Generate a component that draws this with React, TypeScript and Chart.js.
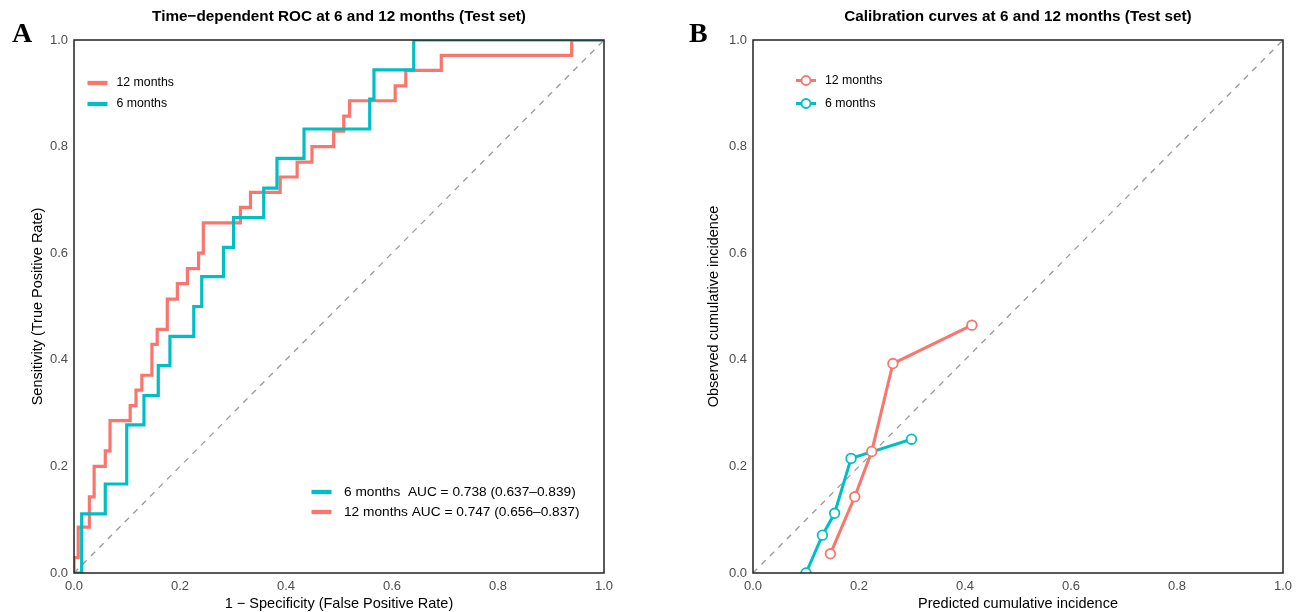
import { useEffect, useRef } from "react";
import { Chart, registerables } from "chart.js";

Chart.register(...registerables);

const FONT = "'Liberation Sans', Arial, Helvetica, sans-serif";
const SERIF = "'Liberation Serif', 'Times New Roman', serif";
const RED = "#F8766D";
const CYAN = "#00BFC4";
const TICK_COLOR = "#4d4d4d";

// Time-dependent ROC, 12 months: corner points (FPR, TPR) of the step curve
const roc12Fpr = [0, 0, 0.008, 0.029, 0.038, 0.059, 0.068, 0.106, 0.117, 0.128, 0.147, 0.157, 0.176, 0.195, 0.214, 0.235, 0.244, 0.314, 0.333, 0.389, 0.421, 0.449, 0.49, 0.509, 0.52, 0.606, 0.626, 0.693, 0.939, 1];
const roc12Tpr = [0, 0.029, 0.086, 0.143, 0.2, 0.229, 0.286, 0.314, 0.343, 0.371, 0.429, 0.457, 0.514, 0.543, 0.571, 0.6, 0.657, 0.686, 0.714, 0.743, 0.771, 0.8, 0.829, 0.857, 0.886, 0.914, 0.943, 0.971, 1, 1];

// Time-dependent ROC, 6 months
const roc6Fpr = [0, 0.0145, 0.059, 0.0995, 0.132, 0.159, 0.181, 0.226, 0.241, 0.282, 0.301, 0.358, 0.383, 0.434, 0.558, 0.566, 0.641, 1];
const roc6Tpr = [0, 0.111, 0.167, 0.278, 0.333, 0.389, 0.444, 0.5, 0.556, 0.611, 0.667, 0.722, 0.778, 0.833, 0.889, 0.944, 1, 1];

// Calibration: predicted vs observed cumulative incidence per risk group
const cal12Pred = [0.146, 0.192, 0.224, 0.264, 0.413];
const cal12Obs = [0.036, 0.143, 0.228, 0.393, 0.465];
const cal6Pred = [0.1, 0.131, 0.154, 0.185, 0.299];
const cal6Obs = [0.0, 0.071, 0.112, 0.215, 0.251];

const auc6Label = "6 months  AUC = 0.738 (0.637–0.839)";
const auc12Label = "12 months AUC = 0.747 (0.656–0.837)";

const toPoints = (xs: number[], ys: number[]) => xs.map((x, i) => ({ x, y: ys[i] }));

type PanelText = {
  letter: string;
  letterX: number;
  title: string;
  legend: (ctx: CanvasRenderingContext2D) => void;
};

function panelPlugin(p: PanelText) {
  return {
    id: "panelDecor",
    afterDatasetsDraw(chart: any) {
      const { ctx, chartArea } = chart;
      ctx.save();
      // panel frame
      ctx.strokeStyle = "#222";
      ctx.lineWidth = 1.5;
      ctx.strokeRect(chartArea.left, chartArea.top, chartArea.right - chartArea.left, chartArea.bottom - chartArea.top);
      // title
      ctx.fillStyle = "#000";
      ctx.font = `bold 15.3px ${FONT}`;
      ctx.textAlign = "center";
      ctx.textBaseline = "middle";
      ctx.fillText(p.title, (chartArea.left + chartArea.right) / 2, 17);
      // panel letter
      ctx.font = `bold 28px ${SERIF}`;
      ctx.textAlign = "left";
      ctx.textBaseline = "alphabetic";
      ctx.fillText(p.letter, p.letterX, 41.5);
      p.legend(ctx);
      ctx.restore();
    },
  };
}

function axisScale(title: string, isX: boolean, size: number) {
  return {
    type: "linear",
    min: 0,
    max: 1,
    grid: { display: false, drawTicks: false },
    border: { display: false },
    ticks: {
      stepSize: 0.2,
      padding: 6,
      color: TICK_COLOR,
      maxRotation: 0,
      font: { family: FONT, size: 13 },
      callback: (v: any) => Number(v).toFixed(1),
    },
    title: {
      display: true,
      text: title,
      color: "#000",
      font: { family: FONT, size: 14.5 },
      padding: isX ? { top: 0, bottom: -1 } : { top: 3, bottom: 0 },
    },
    afterFit: (s: any) => {
      if (isX) s.height = size;
      else s.width = size;
    },
  };
}

function legendLine(ctx: CanvasRenderingContext2D, x0: number, x1: number, y: number, color: string, w: number) {
  ctx.strokeStyle = color;
  ctx.lineWidth = w;
  ctx.lineCap = "butt";
  ctx.beginPath();
  ctx.moveTo(x0, y);
  ctx.lineTo(x1, y);
  ctx.stroke();
}

function legendText(ctx: CanvasRenderingContext2D, text: string, x: number, y: number, size: number) {
  ctx.fillStyle = "#000";
  ctx.font = `${size}px ${FONT}`;
  ctx.textAlign = "left";
  ctx.textBaseline = "middle";
  ctx.fillText(text, x, y);
}

function rocLegend(ctx: CanvasRenderingContext2D) {
  legendLine(ctx, 87.5, 107.5, 83, RED, 4.3);
  legendText(ctx, "12 months", 116.5, 83, 12.3);
  legendLine(ctx, 87.5, 107.5, 104, CYAN, 4.3);
  legendText(ctx, "6 months", 116.5, 104, 12.3);

  legendLine(ctx, 311.5, 331.5, 492, CYAN, 4.3);
  legendText(ctx, auc6Label, 344, 492, 13.7);
  legendLine(ctx, 311.5, 331.5, 512, RED, 4.3);
  legendText(ctx, auc12Label, 344, 512, 13.7);
}

function calLegend(ctx: CanvasRenderingContext2D) {
  const rows: [string, string, number][] = [
    ["12 months", RED, 80.5],
    ["6 months", CYAN, 103.5],
  ];
  for (const [label, color, y] of rows) {
    legendLine(ctx, 148, 168, y, color, 3);
    ctx.beginPath();
    ctx.arc(158, y, 4.5, 0, Math.PI * 2);
    ctx.fillStyle = "#fff";
    ctx.fill();
    ctx.lineWidth = 1.8;
    ctx.strokeStyle = color;
    ctx.stroke();
    legendText(ctx, label, 177, y, 12.3);
  }
}

const diagonal = {
  label: "reference",
  data: [{ x: 0, y: 0 }, { x: 1, y: 1 }],
  borderColor: "#9a9a9a",
  borderWidth: 1.3,
  borderDash: [6, 6],
  pointRadius: 0,
  order: 3,
  clip: 0,
};

function RocPanel() {
  const ref = useRef<HTMLCanvasElement>(null);
  useEffect(() => {
    const chart = new Chart(ref.current as HTMLCanvasElement, {
      type: "line",
      data: {
        datasets: [
          { ...diagonal },
          {
            label: "12 months",
            data: toPoints(roc12Fpr, roc12Tpr),
            borderColor: RED,
            borderWidth: 3.2,
            stepped: "before",
            pointRadius: 0,
            borderJoinStyle: "miter",
            order: 2,
            clip: 0,
          },
          {
            label: "6 months",
            data: toPoints(roc6Fpr, roc6Tpr),
            borderColor: CYAN,
            borderWidth: 3.2,
            stepped: "before",
            pointRadius: 0,
            borderJoinStyle: "miter",
            order: 1,
            clip: 0,
          },
        ],
      } as any,
      options: {
        responsive: false,
        animation: false,
        devicePixelRatio: 1,
        layout: { padding: { left: 26, top: 40, right: 44, bottom: 0 } },
        plugins: { legend: { display: false }, tooltip: { enabled: false } },
        scales: {
          x: axisScale("1 − Specificity (False Positive Rate)", true, 39),
          y: axisScale("Sensitivity (True Positive Rate)", false, 48),
        } as any,
      },
      plugins: [
        panelPlugin({ letter: "A", letterX: 12, title: "Time−dependent ROC at 6 and 12 months (Test set)", legend: rocLegend }),
      ],
    });
    return () => chart.destroy();
  }, []);
  return <canvas ref={ref} width={648} height={612} style={{ position: "absolute", left: 0, top: 0 }} />;
}

function CalibrationPanel() {
  const ref = useRef<HTMLCanvasElement>(null);
  useEffect(() => {
    const series = (label: string, xs: number[], ys: number[], color: string, order: number) => ({
      label,
      data: toPoints(xs, ys),
      borderColor: color,
      borderWidth: 3,
      pointRadius: 4.8,
      pointBackgroundColor: "#fff",
      pointBorderColor: color,
      pointBorderWidth: 1.8,
      order,
      clip: 0,
    });
    const chart = new Chart(ref.current as HTMLCanvasElement, {
      type: "line",
      data: {
        datasets: [
          { ...diagonal },
          series("12 months", cal12Pred, cal12Obs, RED, 1),
          series("6 months", cal6Pred, cal6Obs, CYAN, 2),
        ],
      } as any,
      options: {
        responsive: false,
        animation: false,
        devicePixelRatio: 1,
        layout: { padding: { left: 54, top: 40, right: 25, bottom: 0 } },
        plugins: { legend: { display: false }, tooltip: { enabled: false } },
        scales: {
          x: axisScale("Predicted cumulative incidence", true, 39),
          y: axisScale("Observed cumulative incidence", false, 51),
        } as any,
      },
      plugins: [
        panelPlugin({ letter: "B", letterX: 41, title: "Calibration curves at 6 and 12 months (Test set)", legend: calLegend }),
      ],
    });
    return () => chart.destroy();
  }, []);
  return <canvas ref={ref} width={660} height={612} style={{ position: "absolute", left: 648, top: 0 }} />;
}

export default function App() {
  return (
    <div style={{ position: "absolute", left: 0, top: 0, width: 1296, height: 612, background: "#fff", overflow: "hidden" }}>
      <RocPanel />
      <CalibrationPanel />
    </div>
  );
}
